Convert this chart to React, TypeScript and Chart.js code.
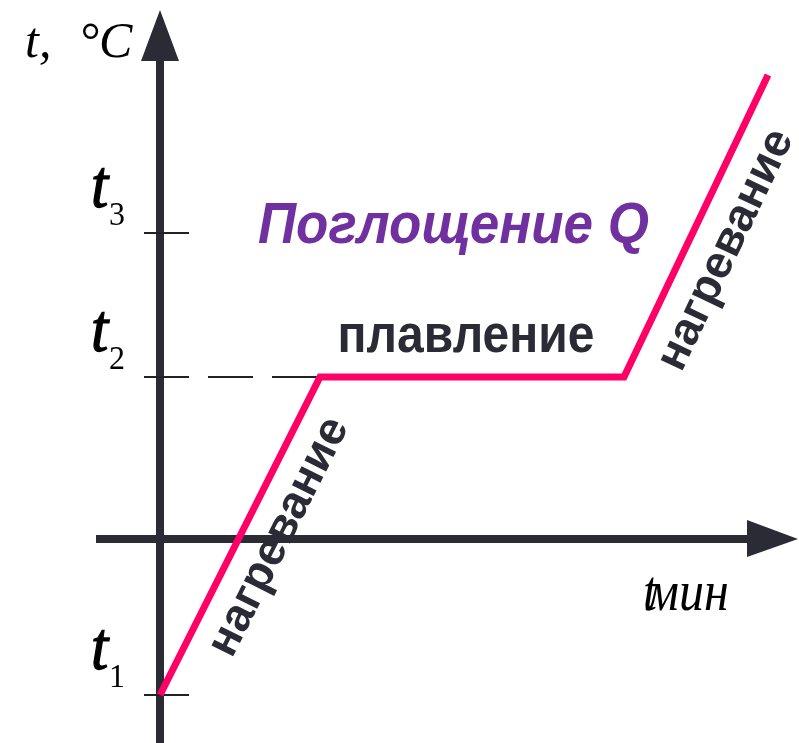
import React, { useEffect, useRef } from "react";
import { Chart, registerables } from "chart.js";

Chart.register(...registerables);

// Data (time in minutes, temperature in °C — schematic units)
const timeMin = [0, 10, 29, 38];
const tempC = [-19.5, 20.25, 20.25, 58];
const tickTemps = [-19.5, 20.25, 38.25];
const tickSubs = ["1", "2", "3"];
const labelAbsorb = "Поглощение Q";
const labelMelt = "плавление";
const labelHeat = "нагревание";

const AXIS = "#2b2b36";
const PINK = "#ff0066";
const PURPLE = "#7030a0";

function stretchedText(ctx: any, text: string, x: number, y: number, sy: number, strokeW = 0) {
  ctx.save();
  ctx.translate(x, y);
  ctx.scale(1, sy);
  ctx.fillText(text, 0, 0);
  if (strokeW > 0) {
    ctx.lineWidth = strokeW;
    ctx.strokeStyle = ctx.fillStyle;
    ctx.strokeText(text, 0, 0);
  }
  ctx.restore();
}

const decor = {
  id: "decor",
  beforeDatasetsDraw(chart: any) {
    const { ctx, scales } = chart;
    const xs = scales.x;
    const ys = scales.y;
    const x0 = xs.getPixelForValue(0);
    const y0 = ys.getPixelForValue(0);
    ctx.save();
    ctx.fillStyle = AXIS;
    ctx.strokeStyle = AXIS;
    // vertical axis
    ctx.lineWidth = 8;
    ctx.beginPath();
    ctx.moveTo(x0, 743);
    ctx.lineTo(x0, 58);
    ctx.stroke();
    ctx.beginPath();
    ctx.moveTo(x0, 10);
    ctx.lineTo(x0 - 19, 61);
    ctx.lineTo(x0 + 19, 61);
    ctx.closePath();
    ctx.fill();
    // horizontal axis
    ctx.beginPath();
    ctx.moveTo(96, y0);
    ctx.lineTo(750, y0);
    ctx.stroke();
    ctx.beginPath();
    ctx.moveTo(798, y0);
    ctx.lineTo(747, y0 - 19);
    ctx.lineTo(747, y0 + 18);
    ctx.closePath();
    ctx.fill();
    // ticks
    ctx.lineWidth = 2;
    ctx.strokeStyle = "#222";
    tickTemps.forEach((t) => {
      const y = ys.getPixelForValue(t);
      ctx.beginPath();
      ctx.moveTo(x0 - 16, y);
      ctx.lineTo(x0 + 29, y);
      ctx.stroke();
    });
    // dashed guide at t2
    const yt2 = ys.getPixelForValue(tickTemps[1]);
    ctx.setLineDash([45, 19]);
    ctx.beginPath();
    ctx.moveTo(x0 + 48, yt2);
    ctx.lineTo(xs.getPixelForValue(timeMin[1]), yt2);
    ctx.stroke();
    ctx.setLineDash([]);
    ctx.restore();
  },
  afterDatasetsDraw(chart: any) {
    const { ctx, scales } = chart;
    const xs = scales.x;
    const ys = scales.y;
    ctx.save();
    // axis titles
    ctx.fillStyle = "#000";
    ctx.textBaseline = "alphabetic";
    ctx.textAlign = "left";
    ctx.font = "italic 50px 'Liberation Serif'";
    ctx.fillText("t,", 25, 57);
    ctx.fillText("°C", 79, 57);
    ctx.font = "italic 50px 'Liberation Serif'";
    stretchedText(ctx, "t", 643, 610, 1.12);
    stretchedText(ctx, "мин", 647, 610, 1.12);
    // tick labels
    tickTemps.forEach((t, i) => {
      const y = ys.getPixelForValue(t);
      ctx.font = "italic 62px 'Liberation Serif'";
      stretchedText(ctx, "t", 91, y - 26, 1.1, 1.2);
      ctx.font = "32px 'Liberation Serif'";
      stretchedText(ctx, tickSubs[i], 109, y - 8, 1.05);
    });
    // Absorb label
    ctx.fillStyle = PURPLE;
    ctx.font = "italic bold 53px 'Liberation Sans'";
    stretchedText(ctx, labelAbsorb, 258, 243, 1.08);
    // melt label
    ctx.fillStyle = AXIS;
    ctx.font = "bold 48px 'Liberation Sans'";
    ctx.textAlign = "center";
    stretchedText(ctx, labelMelt, 466, 352, 1.12);
    // heating labels along slopes
    const seg = (i: number) => {
      const ax = xs.getPixelForValue(timeMin[i]);
      const ay = ys.getPixelForValue(tempC[i]);
      const bx = xs.getPixelForValue(timeMin[i + 1]);
      const by = ys.getPixelForValue(tempC[i + 1]);
      return Math.atan2(by - ay, bx - ax);
    };
    ctx.textBaseline = "middle";
    ctx.font = "bold 46px 'Liberation Sans'";
    ctx.save();
    ctx.translate(279, 537);
    ctx.rotate(seg(0));
    ctx.fillText(labelHeat, 0, 0);
    ctx.restore();
    ctx.save();
    ctx.translate(726, 250);
    ctx.rotate(seg(2));
    ctx.fillText(labelHeat, 0, 0);
    ctx.restore();
    ctx.restore();
  },
};

export default function App() {
  const ref = useRef<HTMLCanvasElement | null>(null);
  useEffect(() => {
    if (!ref.current) return;
    const chart = new Chart(ref.current, {
      type: "line",
      data: {
        datasets: [
          {
            data: timeMin.map((x, i) => ({ x, y: tempC[i] })),
            borderColor: PINK,
            borderWidth: 7,
            pointRadius: 0,
            tension: 0,
            fill: false,
            borderJoinStyle: "miter",
            clip: false as any,
          },
        ],
      },
      options: {
        animation: false,
        responsive: false,
        devicePixelRatio: 1,
        layout: { padding: 0 },
        plugins: { legend: { display: false }, tooltip: { enabled: false } },
        scales: {
          x: { type: "linear", min: -10, max: 39.9375, display: false },
          y: { type: "linear", min: -25.5, max: 67.375, display: false },
        },
      },
      plugins: [decor],
    });
    return () => chart.destroy();
  }, []);
  return (
    <div style={{ position: "absolute", left: 0, top: 0, width: 799, height: 743, background: "#fff" }}>
      <canvas ref={ref} width={799} height={743} style={{ display: "block" }} />
    </div>
  );
}
